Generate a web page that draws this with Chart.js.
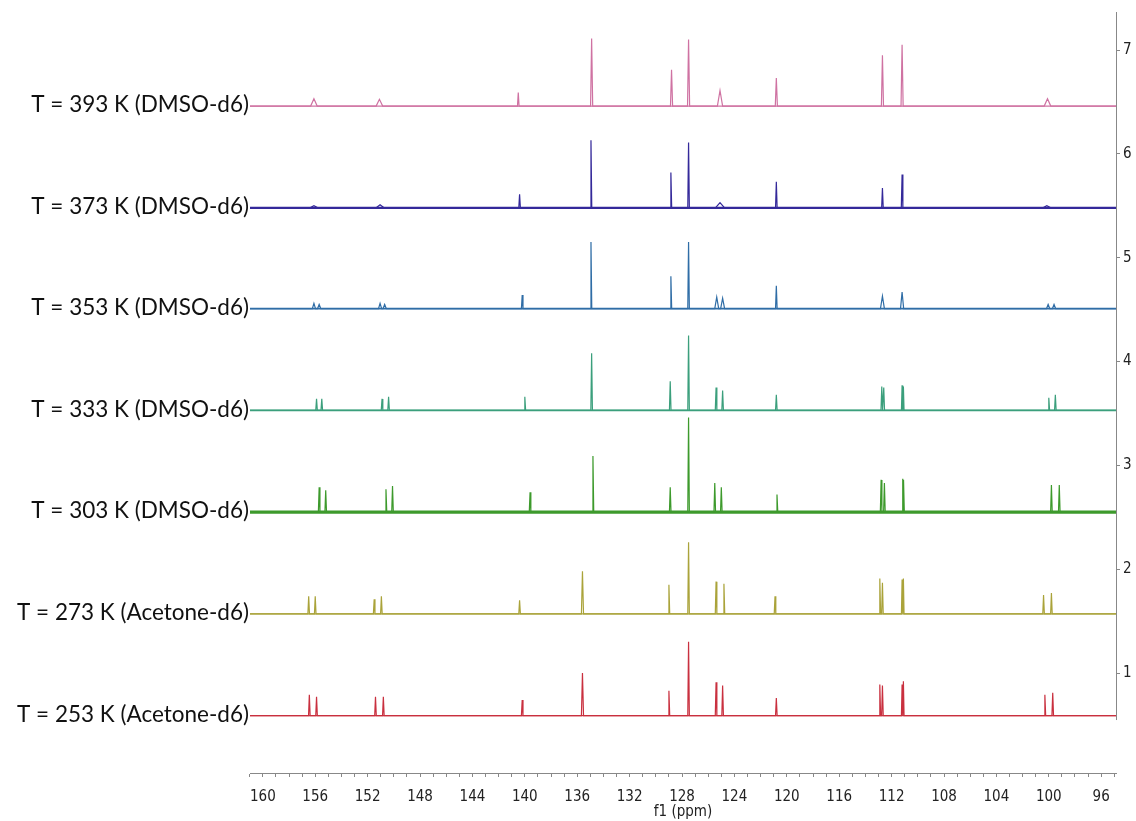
<!DOCTYPE html>
<html>
<head>
<meta charset="utf-8">
<script src="https://cdn.jsdelivr.net/npm/chart.js@4.4.1/dist/chart.umd.min.js"></script>
<style>
  body { margin: 0; background: #fff; }
  #wrap { width: 1136px; height: 821px; }
</style>
</head>
<body>
<div id="wrap"><canvas id="nmr" width="1136" height="821"></canvas></div>
<script>
// trace labels, bottom to top
var traceLabels = [
  "T = 253 K (Acetone-d6)",
  "T = 273 K (Acetone-d6)",
  "T = 303 K (DMSO-d6)",
  "T = 333 K (DMSO-d6)",
  "T = 353 K (DMSO-d6)",
  "T = 373 K (DMSO-d6)",
  "T = 393 K (DMSO-d6)"
];
// vertical offset of each trace baseline
var baselines = [0.59, 1.57, 2.55, 3.53, 4.51, 5.48, 6.46];

// peaks: [ppm, height, half width]
var peaks253 = [[156.45,0.20,0.06],[155.9,0.18,0.06],[151.4,0.18,0.06],[150.8,0.18,0.06],[140.2,0.15,0.06],[135.6,0.41,0.08],[129.0,0.24,0.06],[127.5,0.71,0.06],[125.4,0.32,0.06],[124.9,0.29,0.06],[120.8,0.17,0.06],[112.9,0.30,0.06],[112.7,0.29,0.06],[111.2,0.30,0.05],[111.1,0.33,0.05],[100.3,0.20,0.06],[99.7,0.22,0.06]];
var peaks273 = [[156.5,0.17,0.06],[156.0,0.17,0.06],[151.5,0.14,0.06],[150.95,0.17,0.06],[140.4,0.13,0.06],[135.6,0.41,0.08],[129.0,0.28,0.06],[127.5,0.69,0.06],[125.4,0.31,0.06],[124.8,0.29,0.06],[120.9,0.17,0.06],[112.9,0.34,0.06],[112.7,0.30,0.06],[111.2,0.33,0.05],[111.1,0.34,0.05],[100.4,0.18,0.06],[99.8,0.20,0.06]];
var peaks303 = [[155.7,0.24,0.06],[155.2,0.21,0.06],[150.6,0.22,0.06],[150.1,0.25,0.06],[139.6,0.19,0.06],[134.8,0.54,0.06],[128.9,0.24,0.06],[127.5,0.91,0.06],[125.5,0.28,0.06],[125.0,0.24,0.06],[120.75,0.17,0.06],[112.8,0.31,0.06],[112.55,0.28,0.06],[111.15,0.32,0.04],[111.07,0.31,0.04],[99.8,0.26,0.06],[99.2,0.26,0.06]];
var peaks333 = [[155.9,0.11,0.06],[155.5,0.11,0.06],[150.9,0.11,0.06],[150.4,0.13,0.06],[140.0,0.13,0.06],[134.9,0.55,0.06],[128.9,0.28,0.06],[127.5,0.72,0.06],[125.4,0.22,0.06],[124.9,0.19,0.06],[120.8,0.15,0.06],[112.75,0.23,0.06],[112.6,0.22,0.06],[111.2,0.24,0.05],[111.1,0.23,0.05],[100.0,0.12,0.06],[99.5,0.15,0.06]];
var peaks353 = [[156.1,0.05,0.12],[155.7,0.04,0.12],[151.05,0.05,0.12],[150.7,0.04,0.12],[140.2,0.13,0.06],[134.95,0.64,0.06],[128.85,0.31,0.06],[127.5,0.64,0.06],[125.35,0.11,0.15],[124.9,0.10,0.15],[120.8,0.22,0.06],[112.7,0.12,0.15],[111.2,0.16,0.12],[100.05,0.04,0.12],[99.6,0.04,0.12]];
var peaks373 = [[156.1,0.02,0.3],[151.05,0.03,0.3],[140.4,0.13,0.06],[134.95,0.65,0.06],[128.85,0.34,0.06],[127.5,0.63,0.06],[125.1,0.05,0.35],[120.8,0.25,0.06],[112.7,0.19,0.06],[111.2,0.32,0.06],[100.15,0.02,0.3]];
var peaks393 = [[156.1,0.07,0.25],[151.1,0.065,0.25],[140.5,0.13,0.06],[134.9,0.65,0.08],[128.8,0.35,0.08],[127.5,0.64,0.08],[125.1,0.15,0.2],[120.8,0.27,0.08],[112.7,0.49,0.08],[111.2,0.59,0.08],[100.1,0.07,0.25]];
var allPeaks = [peaks253, peaks273, peaks303, peaks333, peaks353, peaks373, peaks393];

// axis ticks
var xTickLabels = [160, 156, 152, 148, 144, 140, 136, 132, 128, 124, 120, 116, 112, 108, 104, 100, 96];
var yTickLabels = [1, 2, 3, 4, 5, 6, 7];

var colors = ['#c9303f', '#aaa33a', '#3d9a2c', '#3b9f7c', '#2f6da6', '#34299a', '#cf72a2'];
// thickness of the noisy baseline band under each trace
var noiseWidths = [1.4, 1.3, 3.2, 1.8, 1.8, 2.4, 1.2];

var xMin = 94.87, xMax = 160.98;
var yMin = 0.037, yMax = 7.366, yAxisBottom = 0.547;

function buildTrace(base, peaks){
	var pts = [{x: xMax, y: base}];
	peaks.forEach(function(p){
		pts.push({x: p[0] + p[2], y: base});
		pts.push({x: p[0], y: base + p[1]});
		pts.push({x: p[0] - p[2], y: base});
	});
	pts.push({x: xMin, y: base});
	return pts;
}

var datasets = [];
for (var i = 0; i < allPeaks.length; i++){
	// baseline band (noise)
	datasets.push({
		label: traceLabels[i] + ' baseline',
		data: [{x: xMax, y: baselines[i]}, {x: xMin, y: baselines[i]}],
		borderColor: colors[i],
		borderWidth: noiseWidths[i],
		pointRadius: 0,
		fill: false
	});
	datasets.push({
		label: traceLabels[i],
		data: buildTrace(baselines[i], allPeaks[i]),
		borderColor: colors[i],
		borderWidth: 1.2,
		pointRadius: 0,
		tension: 0,
		fill: false
	});
}

// left trace labels + shortened right axis line
var stackLabels = {
	id: 'stackLabels',
	afterDraw: function(chart){
		var ctx = chart.ctx;
		var yScale = chart.scales.y;
		var area = chart.chartArea;
		ctx.save();
		ctx.font = '22.5px Lato, "Open Sans", sans-serif';
		ctx.fillStyle = '#111';
		ctx.textAlign = 'right';
		ctx.textBaseline = 'middle';
		for (var i = 0; i < traceLabels.length; i++){
			ctx.fillText(traceLabels[i], area.left - 1, yScale.getPixelForValue(baselines[i]) - 1);
		}
		ctx.strokeStyle = '#888';
		ctx.lineWidth = 1;
		ctx.beginPath();
		ctx.moveTo(area.right + 0.5, area.top);
		ctx.lineTo(area.right + 0.5, yScale.getPixelForValue(yAxisBottom));
		ctx.stroke();
		ctx.restore();
	}
};

var tickFont = { family: '"Liberation Sans Narrow", "DejaVu Sans Condensed", sans-serif', size: 15 };

var chart = new Chart(document.getElementById('nmr'), {
	type: 'line',
	data: { datasets: datasets },
	options: {
		responsive: false,
		animation: false,
		layout: { padding: { left: 250, top: 12, right: 0, bottom: 0 } },
		plugins: {
			legend: { display: false },
			tooltip: { enabled: false }
		},
		scales: {
			x: {
				type: 'linear',
				reverse: true,
				min: xMin,
				max: xMax,
				afterBuildTicks: function(scale){
					var t = [];
					for (var v = 161; v >= 95; v--) t.push({ value: v });
					scale.ticks = t;
				},
				afterFit: function(scale){ scale.height = 48; },
				grid: { drawOnChartArea: false, drawTicks: true, tickLength: 4, color: '#888' },
				border: { display: true, color: '#888' },
				ticks: {
					autoSkip: false,
					maxRotation: 0,
					padding: 11,
					color: '#222',
					font: tickFont,
					callback: function(v){ return xTickLabels.indexOf(v) >= 0 ? String(v) : ''; }
				},
				title: {
					display: true,
					text: 'f1 (ppm)',
					color: '#222',
					font: tickFont,
					padding: { top: 0, bottom: 0 }
				}
			},
			y: {
				type: 'linear',
				position: 'right',
				min: yMin,
				max: yMax,
				afterBuildTicks: function(scale){
					scale.ticks = yTickLabels.map(function(v){ return { value: v }; });
				},
				afterFit: function(scale){ scale.width = 20; },
				grid: { drawOnChartArea: false, drawTicks: true, tickLength: 4, color: '#888' },
				border: { display: false },
				ticks: { padding: 3, color: '#222', font: tickFont }
			}
		}
	},
	plugins: [stackLabels]
});
</script>
</body>
</html>
